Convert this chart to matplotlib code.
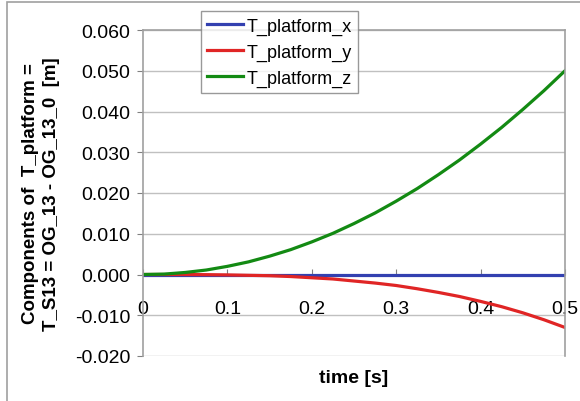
import matplotlib
matplotlib.use('Agg')
from matplotlib import pyplot as plt
from matplotlib.patches import Rectangle

plt.rcParams['font.family'] = ['Liberation Sans', 'DejaVu Sans']

# Data
time = [0.0, 0.025, 0.05, 0.075, 0.1, 0.125, 0.15, 0.175, 0.2, 0.225, 0.25,
        0.275, 0.3, 0.325, 0.35, 0.375, 0.4, 0.425, 0.45, 0.475, 0.5]
t_x = [0.0] * 21
t_y = [0.0, 0.0, -0.00001, -0.00004, -0.0001, -0.0002, -0.0003, -0.0005, -0.0008, -0.0011, -0.0016,
       -0.0021, -0.0027, -0.0035, -0.0044, -0.0054, -0.0066, -0.0079, -0.0094, -0.0111, -0.013]
t_z = [0.0, 0.0001, 0.0005, 0.0011, 0.002, 0.0031, 0.0045, 0.0061, 0.008, 0.0101, 0.0125,
       0.0151, 0.018, 0.0211, 0.0245, 0.0281, 0.032, 0.0361, 0.0405, 0.0451, 0.050]
labels = ['T_platform_x', 'T_platform_y', 'T_platform_z']
colors = ['#3340b0', '#e02525', '#138a13']
xticks = [0, 0.1, 0.2, 0.3, 0.4, 0.5]
xticklabels = ['0', '0.1', '0.2', '0.3', '0.4', '0.5']
yticks = [-0.02, -0.01, 0.0, 0.01, 0.02, 0.03, 0.04, 0.05, 0.06]

fig = plt.figure(figsize=(5.8, 4.02), dpi=100)
W, H = 580, 402
ax = fig.add_axes([143 / W, 1 - 357 / H, (565 - 143) / W, (357 - 31) / H])

# outer chart border (only top/left visible in the picture)
fig.patches.append(Rectangle((7 / W, -0.1), 1.2, 1.1 - 3 / H, transform=fig.transFigure,
                             fill=False, edgecolor='#a0a0a0', linewidth=1.2))

for vals, lab, c in zip([t_x, t_y, t_z], labels, colors):
    ax.plot(time, vals, color=c, linewidth=2.3, label=lab)

ax.set_xlim(0, 0.5)
ax.set_ylim(-0.02, 0.06)
ax.spines['bottom'].set_position(('data', 0))
ax.set_yticks(yticks)
ax.set_yticklabels(['%.3f' % v for v in yticks])
ax.set_xticks(xticks)
ax.set_xticklabels(xticklabels)

ax.grid(axis='y', color='#c0c0c0', linewidth=1)
ax.set_axisbelow(True)
for s in ['bottom', 'left', 'right', 'top']:
    ax.spines[s].set_color('#a0a0a0')
    ax.spines[s].set_linewidth(1.2)
ax.spines['bottom'].set_zorder(1)
ax.tick_params(axis='x', direction='in', length=4, pad=18, color='#808080', labelsize=14)
ax.tick_params(axis='y', direction='out', length=4, pad=5, color='#808080', labelsize=14)

ax.set_xlabel('time [s]', fontsize=14, fontweight='bold', va='center')
ax.xaxis.set_label_coords(0.5, -22 / 326)
ax.set_ylabel('Components of  T_platform =\nT_S13 = OG_13 - OG_13_0  [m]',
              fontsize=13.5, fontweight='bold', linespacing=1.35, va='center')
ax.yaxis.set_label_coords((41 - 143) / 422, 0.5)

leg = ax.legend(loc='upper left', bbox_to_anchor=(201 / W, 1 - 12 / H), bbox_transform=fig.transFigure,
                fontsize=13, frameon=True, fancybox=False, handlelength=2.0, handletextpad=0.15,
                borderpad=0.35, labelspacing=0.5, borderaxespad=0)
leg.get_frame().set_edgecolor('#808080')
leg.get_frame().set_linewidth(1)
leg.set_zorder(5)

fig.savefig('out.png', dpi=100)
